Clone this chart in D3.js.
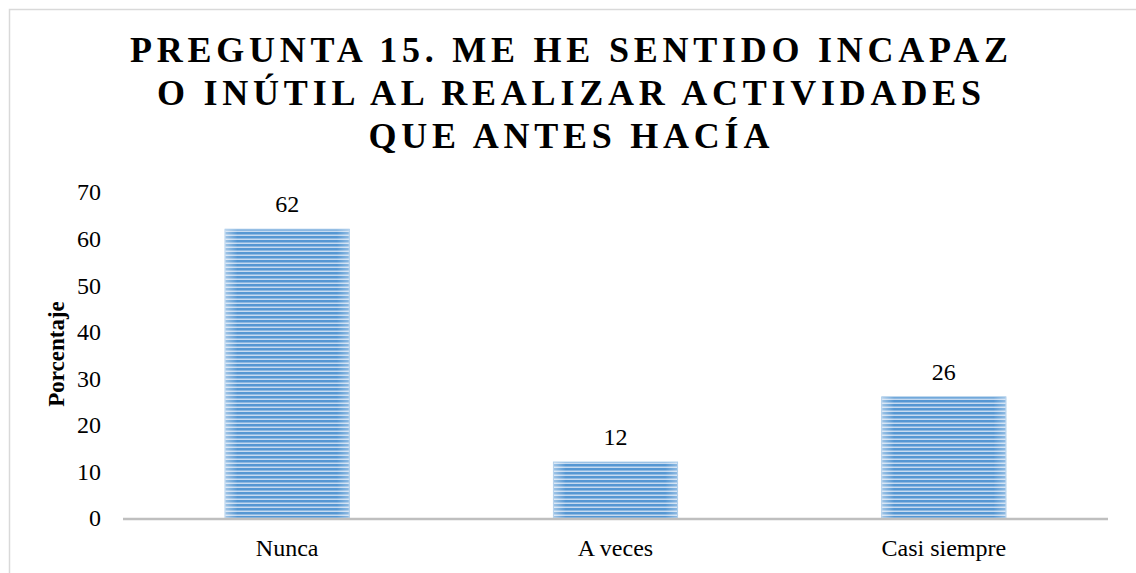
<!DOCTYPE html>
<html><head><meta charset="utf-8">
<script src="https://cdn.jsdelivr.net/npm/d3@7"></script>
<style>body{margin:0;background:#fff}svg{display:block}</style>
</head><body><svg id="c" width="1136" height="573"></svg>
<script>
const categories = ["Nunca", "A veces", "Casi siempre"];
const values = [62, 12, 26];
const yTicks = [0, 10, 20, 30, 40, 50, 60, 70];
const titleLines = ["PREGUNTA 15. ME HE SENTIDO INCAPAZ", "O INÚTIL AL REALIZAR ACTIVIDADES", "QUE ANTES HACÍA"];
const yLabel = "Porcentaje";

const svg = d3.select("#c");
const serif = "'Liberation Serif','Times New Roman',serif";

// outer border
svg.append("rect").attr("x", 9.5).attr("y", 9.5).attr("width", 1140).attr("height", 580)
  .attr("fill", "#fff").attr("stroke", "#d9d9d9").attr("stroke-width", 1.5);

const defs = svg.append("defs");
const pat = defs.append("pattern").attr("id", "stripes").attr("patternUnits", "userSpaceOnUse")
  .attr("width", 8).attr("height", 4);
pat.append("rect").attr("width", 8).attr("height", 4).attr("fill", "#c6daf0");
pat.append("rect").attr("width", 8).attr("height", 2.5).attr("fill", "#5597d3");
const grad = defs.append("linearGradient").attr("id", "edge").attr("x1", 0).attr("x2", 1);
grad.append("stop").attr("offset", "0").attr("stop-color", "#fff").attr("stop-opacity", 0.45);
grad.append("stop").attr("offset", "0.1").attr("stop-color", "#fff").attr("stop-opacity", 0);
grad.append("stop").attr("offset", "0.9").attr("stop-color", "#fff").attr("stop-opacity", 0);
grad.append("stop").attr("offset", "1").attr("stop-color", "#fff").attr("stop-opacity", 0.35);

const x = d3.scaleBand().domain(categories).range([123, 1108]).paddingInner(0.622).paddingOuter(0.311);
const y = d3.scaleLinear().domain([0, 70]).range([518, 192]);

// title
const title = svg.append("text").attr("font-family", serif).attr("font-weight", "bold")
  .attr("font-size", 36).attr("fill", "#000").attr("text-anchor", "middle");
const tl = title.selectAll("tspan").data(titleLines).join("tspan")
  .attr("x", 569).attr("y", (d, i) => 62 + i * 43).text(d => d);
// fit letter spacing to match reference width of first line
const natural = tl.nodes()[0].getComputedTextLength();
const ls = Math.max(0, (878 - natural) / (titleLines[0].length - 1));
title.attr("letter-spacing", ls + "px");
tl.attr("dx", ls / 2);

// y ticks
svg.append("g").selectAll("text").data(yTicks).join("text")
  .attr("x", 101).attr("y", d => y(d)).attr("dy", "0.35em").attr("text-anchor", "end")
  .attr("font-family", serif).attr("font-size", 24).attr("fill", "#000").text(d => d);

// y label
svg.append("text").attr("transform", "translate(64,354) rotate(-90)").attr("text-anchor", "middle")
  .attr("font-family", serif).attr("font-weight", "bold").attr("font-size", 23).text(yLabel);

// bars
const bars = svg.append("g");
bars.selectAll("rect.b").data(values).join("rect").attr("class", "b")
  .attr("x", (d, i) => x(categories[i])).attr("width", x.bandwidth())
  .attr("y", d => y(d)).attr("height", d => y(0) - y(d))
  .attr("fill", "url(#stripes)").attr("stroke", "#9dc3e6").attr("stroke-width", 1);
bars.selectAll("rect.e").data(values).join("rect").attr("class", "e")
  .attr("x", (d, i) => x(categories[i])).attr("width", x.bandwidth())
  .attr("y", d => y(d)).attr("height", d => y(0) - y(d)).attr("fill", "url(#edge)");

// value labels
svg.append("g").selectAll("text").data(values).join("text")
  .attr("x", (d, i) => x(categories[i]) + x.bandwidth() / 2).attr("y", d => y(d) - 17)
  .attr("text-anchor", "middle").attr("font-family", serif).attr("font-size", 24).text(d => d);

// x axis line
svg.append("line").attr("x1", 123).attr("x2", 1108).attr("y1", y(0) + 1).attr("y2", y(0) + 1)
  .attr("stroke", "#bfbfbf").attr("stroke-width", 2.5);

// category labels
svg.append("g").selectAll("text").data(categories).join("text")
  .attr("x", d => x(d) + x.bandwidth() / 2).attr("y", 556).attr("text-anchor", "middle")
  .attr("font-family", serif).attr("font-size", 24).text(d => d);
</script></body></html>
